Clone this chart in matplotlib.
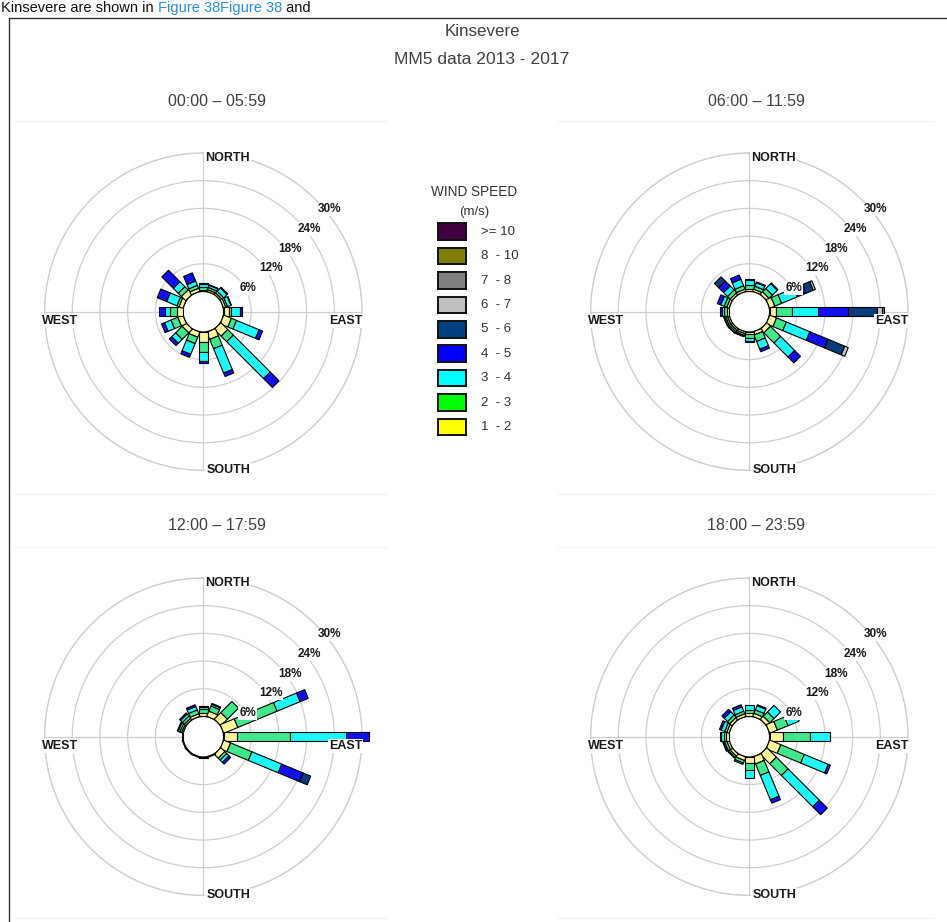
import numpy as np
import matplotlib
matplotlib.use("Agg")
import matplotlib.pyplot as plt
from matplotlib.patches import Rectangle

W, H, DPI = 947, 922, 100
plt.rcParams["font.family"] = ["Liberation Sans", "DejaVu Sans"]

# ---------------------------------------------------------------- data
directions = ["N", "NNE", "NE", "ENE", "E", "ESE", "SE", "SSE",
              "S", "SSW", "SW", "WSW", "W", "WNW", "NW", "NNW"]

# speed classes from lowest to highest
speed_labels = ["1  - 2", "2  - 3", "3  - 4", "4  - 5", "5  - 6",
                "6  - 7", "7  - 8", "8  - 10", ">= 10"]
legend_colors = ["#ffff00", "#00ff00", "#00ffff", "#0000ff", "#004080",
                 "#c0c0c0", "#808080", "#808000", "#400040"]
bar_colors = ["#fff59a", "#3fe88a", "#1ff8f8", "#1010ee", "#0a3c7a",
              "#c8c8c8", "#808080", "#808000", "#400040"]

period_labels = ["00:00 \u2013 05:59", "06:00 \u2013 11:59",
                 "12:00 \u2013 17:59", "18:00 \u2013 23:59"]

# frequency (%) per direction, per speed class (lowest class first)
freq_00_06 = [
    [0.4, 0.6, 0.7, 0.2], [0.4, 0.5, 0.5, 0.1], [0.4, 0.5, 1.0, 0.2],
    [0.5, 0.4, 0.8, 0.1], [1.1, 0.5, 2.0, 0.5], [1.8, 1.2, 5.3, 0.8],
    [2.1, 1.7, 11.3, 2.7], [1.7, 2.2, 5.7, 0.8], [2.2, 2.1, 2.0, 0.5],
    [1.2, 1.5, 2.5, 0.7], [1.1, 2.0, 1.2, 0.7], [1.2, 1.6, 1.5, 0.7],
    [1.4, 1.5, 1.1, 1.3], [0.9, 0.5, 2.4, 2.2], [1.3, 1.0, 1.5, 3.5],
    [0.7, 0.7, 1.0, 1.9],
]
freq_06_12 = [
    [0.6, 0.8, 1.0, 0.3], [0.5, 0.7, 0.8, 0.2], [0.7, 1.0, 1.5, 0.2],
    [1.2, 1.6, 3.7, 2.1, 1.6, 0.5], [1.4, 3.4, 5.8, 6.5, 6.1, 1.1, 0.5],
    [1.6, 2.3, 5.5, 4.3, 3.9, 0.8], [1.1, 3.1, 4.3, 1.8],
    [0.7, 1.5, 1.8, 0.6], [0.5, 0.9, 0.5, 0.3], [0.4, 0.4, 0.2, 0.1],
    [0.4, 0.4, 0.3, 0.1], [0.4, 0.4, 0.3, 0.1], [0.5, 0.6, 0.5, 0.3],
    [0.5, 0.6, 0.8, 0.8], [0.5, 0.8, 1.2, 1.5, 1.3], [0.5, 0.8, 1.5, 1.0],
]
freq_12_18 = [
    [0.8, 0.8, 0.4, 0.2], [1.2, 1.2, 0.4, 0.2], [2.0, 3.4],
    [3.3, 9.2, 5.4, 1.9], [2.9, 11.4, 12.2, 4.9], [1.6, 5.0, 7.0, 5.0, 1.8],
    [1.2, 0.6, 0.7, 0.5], [0.15], [0.15], [0.15], [0.15], [0.15], [0.15],
    [0.3, 0.4, 0.4, 0.2], [0.4, 0.6, 0.6, 0.3], [0.6, 0.9, 0.8, 0.4],
]
freq_18_24 = [
    [0.7, 0.7, 1.0], [0.7, 0.8, 1.0, 0.2], [0.9, 1.3, 2.0],
    [1.8, 2.5, 2.6], [3.0, 5.8, 4.3], [2.6, 5.5, 5.6, 0.5],
    [2.9, 3.6, 9.6, 2.4], [1.6, 2.7, 5.7, 0.8], [1.3, 1.6, 1.6],
    [0.8, 0.6, 0.3], [0.6, 0.4, 0.2], [0.5, 0.5, 0.3, 0.1],
    [0.6, 0.6, 0.6, 0.1], [0.5, 0.5, 0.8, 0.4], [0.6, 0.7, 1.0, 0.7],
    [0.6, 0.6, 1.0, 0.5],
]
period_freqs = [freq_00_06, freq_06_12, freq_12_18, freq_18_24]

ring_values = [6, 12, 18, 24, 30]
compass_labels = ["NORTH", "EAST", "SOUTH", "WEST"]

# ---------------------------------------------------------------- layout
RMAX = 30.0
R_PX = 158.75                      # pixel radius of the 30 % ring
PX_PER_UNIT = 4.625                # pixels per percent
HUB = 20.25 / PX_PER_UNIT          # calm circle radius in percent units
HALF_W = 4.7 / PX_PER_UNIT         # half bar width in percent units
centers = [(203.3, 311.7), (749.3, 311.7), (203.3, 736.7), (749.3, 736.7)]
title_pos = [(217, 101), (756, 101), (217, 525), (756, 525)]

fig = plt.figure(figsize=(W / DPI, H / DPI), dpi=DPI)
fig.patch.set_facecolor("white")

# page background: frame, running text, panel outlines, titles
bg = fig.add_axes([0, 0, 1, 1])
bg.set_xlim(0, W)
bg.set_ylim(H, 0)
bg.axis("off")
bg.plot([8.5, 8.5, W], [H, 18.5, 18.5], color="#333333", lw=1.0)
t1 = bg.text(1, 12, "Kinsevere are shown in ", fontsize=10.5,
             color="#111111", va="baseline", ha="left")
t2 = bg.annotate("Figure 38", xy=(1, 0), xycoords=t1, fontsize=10.5,
                 color="#2e8fd6", va="bottom", ha="left")
t3 = bg.annotate("Figure 38", xy=(1, 0), xycoords=t2, fontsize=10.5,
                 color="#2e8fd6", va="bottom", ha="left")
bg.annotate(" and", xy=(1, 0), xycoords=t3, fontsize=10.5, color="#111111",
            va="bottom", ha="left")
for (x0, x1) in [(15, 386), (558, 934)]:
    for y in (121.5, 493.5, 546.5, 917.5):
        bg.plot([x0, x1], [y, y], color="#f3f3f3", lw=1.0)

bg.text(482, 31, "Kinsevere", fontsize=12.2, color="#404040",
        ha="center", va="center")
bg.text(482, 59, "MM5 data 2013 - 2017", fontsize=12.6, color="#404040",
        ha="center", va="center")
for (tx, ty), lab in zip(title_pos, period_labels):
    bg.text(tx, ty, lab, fontsize=11.5, color="#404040", ha="center",
            va="center")

bearings = np.deg2rad(np.arange(len(directions)) * 22.5)


def segment_polygon(bearing, r0, r1):
    """Rectangle of constant pixel width along a bearing, in (theta, r)."""
    thetas, radii = [], []
    for a, side in ((r0 + HUB, -1), (r1 + HUB, -1), (r1 + HUB, 1), (r0 + HUB, 1)):
        thetas.append(bearing + side * np.arctan2(HALF_W, a))
        radii.append(np.hypot(a, HALF_W) - HUB)
    return thetas, radii


white_box = dict(boxstyle="square,pad=0.08", fc="white", ec="none")

for (cx, cy), freqs in zip(centers, period_freqs):
    left = (cx - R_PX) / W
    bottom = (H - cy - R_PX) / H
    ax = fig.add_axes([left, bottom, 2 * R_PX / W, 2 * R_PX / H],
                      projection="polar")
    ax.set_theta_zero_location("N")
    ax.set_theta_direction(-1)
    ax.set_axisbelow(True)

    for bearing, classes in zip(bearings, freqs):
        cum = np.concatenate([[0.0], np.cumsum(classes)])
        for k in range(len(classes)):
            th, rr = segment_polygon(bearing, cum[k], cum[k + 1])
            ax.fill(th, rr, facecolor=bar_colors[k], edgecolor="black",
                    lw=0.8, clip_on=False, zorder=3)

    ax.set_ylim(0, RMAX)
    ax.set_rorigin(-HUB)
    ax.set_yticks(ring_values)
    ax.set_yticklabels([])
    ax.set_xticks(np.deg2rad([0, 90, 180, 270]))
    ax.set_xticklabels([])
    ax.grid(True, color="#cfcfcf", lw=0.9)
    ax.spines["polar"].set_color("#cfcfcf")
    ax.spines["polar"].set_linewidth(0.9)
    ax.spines["inner"].set_visible(False)
    ax.tick_params(length=0)

    for rv in ring_values:
        ax.annotate(f"{rv}%", xy=(np.pi / 4, rv), xytext=(2, -10),
                    textcoords="offset pixels", ha="left", va="center",
                    fontsize=8.5, fontweight="bold", color="#1a1a1a",
                    bbox=white_box, zorder=6, annotation_clip=False)

    compass_place = [
        (0.0, (2, -5), "left"),
        (np.pi / 2, (0, -9.6), "right"),
        (np.pi, (3, 0), "left"),
        (3 * np.pi / 2, (-3, -9.6), "left"),
    ]
    for lab, (th, off, ha) in zip(compass_labels, compass_place):
        ax.annotate(lab, xy=(th, RMAX), xytext=off,
                    textcoords="offset pixels", ha=ha, va="center",
                    fontsize=9, fontweight="bold", color="#1a1a1a",
                    bbox=white_box, zorder=6, annotation_clip=False)

# wind speed legend
leg = fig.add_axes([0, 0, 1, 1], facecolor="none")
leg.set_xlim(0, W)
leg.set_ylim(H, 0)
leg.axis("off")
leg.text(474.5, 191.7, "WIND SPEED", fontsize=9.8, color="#333333",
         ha="center", va="center")
leg.text(474, 212, "(m/s)", fontsize=9.5, color="#333333",
         ha="center", va="center")
for i, (lab, col) in enumerate(zip(speed_labels[::-1], legend_colors[::-1])):
    yc = 231.7 + i * 24.4
    leg.add_patch(Rectangle((438.3, yc - 8.3), 27.7, 16.6, facecolor=col,
                            edgecolor="#111111", lw=1.4))
    leg.text(481, yc, lab, fontsize=9.5, color="#333333", ha="left",
             va="center")

fig.savefig("out.png", dpi=DPI)
